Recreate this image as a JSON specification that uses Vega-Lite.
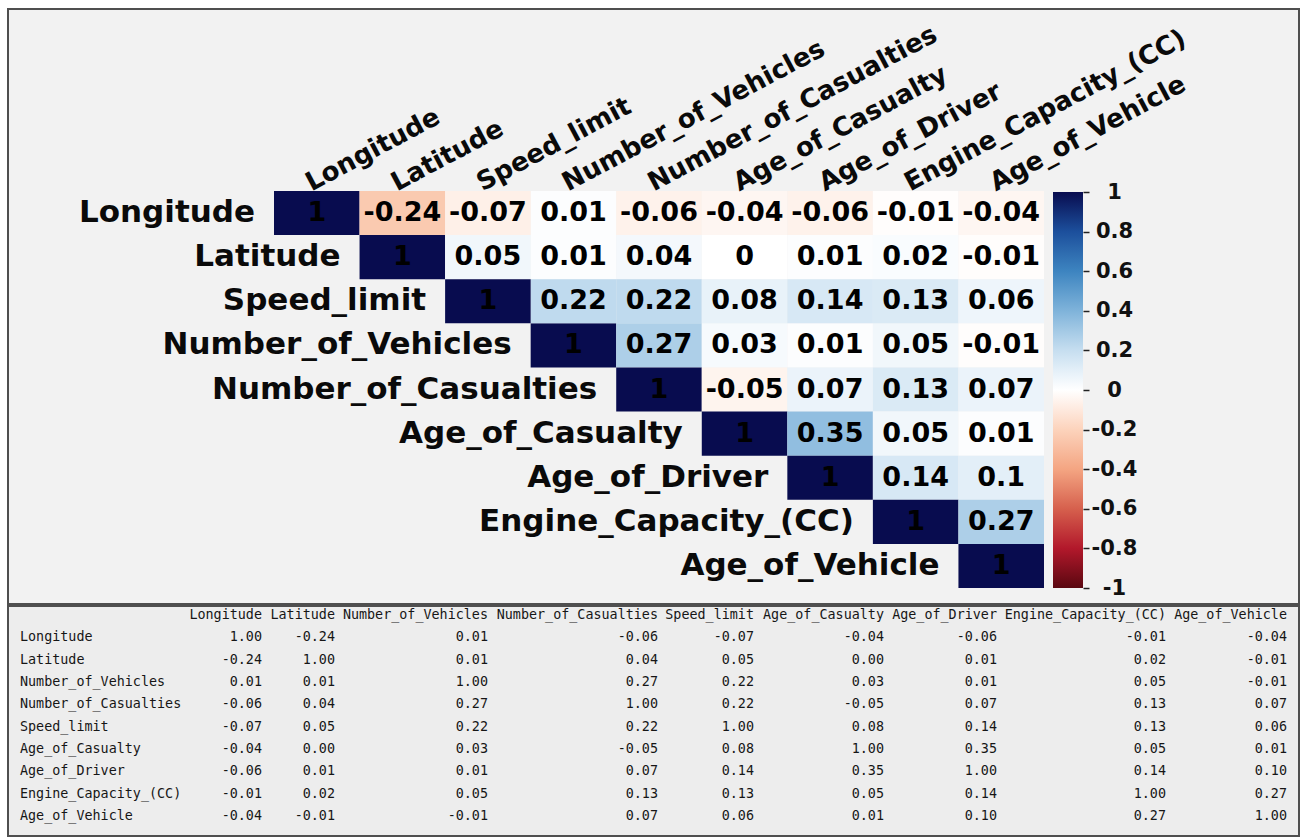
{
  "$schema": "https://vega.github.io/schema/vega-lite/v6.json",
  "background": "white",
  "padding": {"left": 7, "top": 8, "right": 5, "bottom": 4},
  "config": {
    "concat": {"spacing": 0},
    "view": {"stroke": null}
  },
  "datasets": {
    "corr": [
      {"row": "Longitude", "col": "Longitude", "r": 1},
      {"row": "Longitude", "col": "Latitude", "r": -0.24},
      {"row": "Longitude", "col": "Number_of_Vehicles", "r": 0.01},
      {"row": "Longitude", "col": "Number_of_Casualties", "r": -0.06},
      {"row": "Longitude", "col": "Speed_limit", "r": -0.07},
      {"row": "Longitude", "col": "Age_of_Casualty", "r": -0.04},
      {"row": "Longitude", "col": "Age_of_Driver", "r": -0.06},
      {"row": "Longitude", "col": "Engine_Capacity_(CC)", "r": -0.01},
      {"row": "Longitude", "col": "Age_of_Vehicle", "r": -0.04},
      {"row": "Latitude", "col": "Longitude", "r": -0.24},
      {"row": "Latitude", "col": "Latitude", "r": 1},
      {"row": "Latitude", "col": "Number_of_Vehicles", "r": 0.01},
      {"row": "Latitude", "col": "Number_of_Casualties", "r": 0.04},
      {"row": "Latitude", "col": "Speed_limit", "r": 0.05},
      {"row": "Latitude", "col": "Age_of_Casualty", "r": 0},
      {"row": "Latitude", "col": "Age_of_Driver", "r": 0.01},
      {"row": "Latitude", "col": "Engine_Capacity_(CC)", "r": 0.02},
      {"row": "Latitude", "col": "Age_of_Vehicle", "r": -0.01},
      {"row": "Number_of_Vehicles", "col": "Longitude", "r": 0.01},
      {"row": "Number_of_Vehicles", "col": "Latitude", "r": 0.01},
      {"row": "Number_of_Vehicles", "col": "Number_of_Vehicles", "r": 1},
      {"row": "Number_of_Vehicles", "col": "Number_of_Casualties", "r": 0.27},
      {"row": "Number_of_Vehicles", "col": "Speed_limit", "r": 0.22},
      {"row": "Number_of_Vehicles", "col": "Age_of_Casualty", "r": 0.03},
      {"row": "Number_of_Vehicles", "col": "Age_of_Driver", "r": 0.01},
      {"row": "Number_of_Vehicles", "col": "Engine_Capacity_(CC)", "r": 0.05},
      {"row": "Number_of_Vehicles", "col": "Age_of_Vehicle", "r": -0.01},
      {"row": "Number_of_Casualties", "col": "Longitude", "r": -0.06},
      {"row": "Number_of_Casualties", "col": "Latitude", "r": 0.04},
      {"row": "Number_of_Casualties", "col": "Number_of_Vehicles", "r": 0.27},
      {"row": "Number_of_Casualties", "col": "Number_of_Casualties", "r": 1},
      {"row": "Number_of_Casualties", "col": "Speed_limit", "r": 0.22},
      {"row": "Number_of_Casualties", "col": "Age_of_Casualty", "r": -0.05},
      {"row": "Number_of_Casualties", "col": "Age_of_Driver", "r": 0.07},
      {"row": "Number_of_Casualties", "col": "Engine_Capacity_(CC)", "r": 0.13},
      {"row": "Number_of_Casualties", "col": "Age_of_Vehicle", "r": 0.07},
      {"row": "Speed_limit", "col": "Longitude", "r": -0.07},
      {"row": "Speed_limit", "col": "Latitude", "r": 0.05},
      {"row": "Speed_limit", "col": "Number_of_Vehicles", "r": 0.22},
      {"row": "Speed_limit", "col": "Number_of_Casualties", "r": 0.22},
      {"row": "Speed_limit", "col": "Speed_limit", "r": 1},
      {"row": "Speed_limit", "col": "Age_of_Casualty", "r": 0.08},
      {"row": "Speed_limit", "col": "Age_of_Driver", "r": 0.14},
      {"row": "Speed_limit", "col": "Engine_Capacity_(CC)", "r": 0.13},
      {"row": "Speed_limit", "col": "Age_of_Vehicle", "r": 0.06},
      {"row": "Age_of_Casualty", "col": "Longitude", "r": -0.04},
      {"row": "Age_of_Casualty", "col": "Latitude", "r": 0},
      {"row": "Age_of_Casualty", "col": "Number_of_Vehicles", "r": 0.03},
      {"row": "Age_of_Casualty", "col": "Number_of_Casualties", "r": -0.05},
      {"row": "Age_of_Casualty", "col": "Speed_limit", "r": 0.08},
      {"row": "Age_of_Casualty", "col": "Age_of_Casualty", "r": 1},
      {"row": "Age_of_Casualty", "col": "Age_of_Driver", "r": 0.35},
      {"row": "Age_of_Casualty", "col": "Engine_Capacity_(CC)", "r": 0.05},
      {"row": "Age_of_Casualty", "col": "Age_of_Vehicle", "r": 0.01},
      {"row": "Age_of_Driver", "col": "Longitude", "r": -0.06},
      {"row": "Age_of_Driver", "col": "Latitude", "r": 0.01},
      {"row": "Age_of_Driver", "col": "Number_of_Vehicles", "r": 0.01},
      {"row": "Age_of_Driver", "col": "Number_of_Casualties", "r": 0.07},
      {"row": "Age_of_Driver", "col": "Speed_limit", "r": 0.14},
      {"row": "Age_of_Driver", "col": "Age_of_Casualty", "r": 0.35},
      {"row": "Age_of_Driver", "col": "Age_of_Driver", "r": 1},
      {"row": "Age_of_Driver", "col": "Engine_Capacity_(CC)", "r": 0.14},
      {"row": "Age_of_Driver", "col": "Age_of_Vehicle", "r": 0.1},
      {"row": "Engine_Capacity_(CC)", "col": "Longitude", "r": -0.01},
      {"row": "Engine_Capacity_(CC)", "col": "Latitude", "r": 0.02},
      {"row": "Engine_Capacity_(CC)", "col": "Number_of_Vehicles", "r": 0.05},
      {"row": "Engine_Capacity_(CC)", "col": "Number_of_Casualties", "r": 0.13},
      {"row": "Engine_Capacity_(CC)", "col": "Speed_limit", "r": 0.13},
      {"row": "Engine_Capacity_(CC)", "col": "Age_of_Casualty", "r": 0.05},
      {"row": "Engine_Capacity_(CC)", "col": "Age_of_Driver", "r": 0.14},
      {"row": "Engine_Capacity_(CC)", "col": "Engine_Capacity_(CC)", "r": 1},
      {"row": "Engine_Capacity_(CC)", "col": "Age_of_Vehicle", "r": 0.27},
      {"row": "Age_of_Vehicle", "col": "Longitude", "r": -0.04},
      {"row": "Age_of_Vehicle", "col": "Latitude", "r": -0.01},
      {"row": "Age_of_Vehicle", "col": "Number_of_Vehicles", "r": -0.01},
      {"row": "Age_of_Vehicle", "col": "Number_of_Casualties", "r": 0.07},
      {"row": "Age_of_Vehicle", "col": "Speed_limit", "r": 0.06},
      {"row": "Age_of_Vehicle", "col": "Age_of_Casualty", "r": 0.01},
      {"row": "Age_of_Vehicle", "col": "Age_of_Driver", "r": 0.1},
      {"row": "Age_of_Vehicle", "col": "Engine_Capacity_(CC)", "r": 0.27},
      {"row": "Age_of_Vehicle", "col": "Age_of_Vehicle", "r": 1}
    ]
  },
  "vconcat": [
    {
      "width": 1291,
      "height": 595,
      "view": {"fill": "#f2f2f2", "stroke": "#4f4f4f", "strokeWidth": 2},
      "data": {"name": "corr"},
      "transform": [
        {"filter": "indexof(['Longitude','Latitude','Speed_limit','Number_of_Vehicles','Number_of_Casualties','Age_of_Casualty','Age_of_Driver','Engine_Capacity_(CC)','Age_of_Vehicle'], datum.row) <= indexof(['Longitude','Latitude','Speed_limit','Number_of_Vehicles','Number_of_Casualties','Age_of_Casualty','Age_of_Driver','Engine_Capacity_(CC)','Age_of_Vehicle'], datum.col)"}
      ],
      "resolve": {"scale": {"y": "independent"}, "axis": {"y": "independent"}},
      "layer": [
        {
          "layer": [
            {
              "mark": {"type": "rect"},
              "encoding": {
                "x": {"field": "col", "type": "nominal", "axis": null,
                  "scale": {"domain": ["Longitude","Latitude","Speed_limit","Number_of_Vehicles","Number_of_Casualties","Age_of_Casualty","Age_of_Driver","Engine_Capacity_(CC)","Age_of_Vehicle"], "range": [266, 1036], "paddingInner": 0, "paddingOuter": 0}},
                "y": {"field": "row", "type": "nominal", "axis": null,
                  "scale": {"domain": ["Longitude","Latitude","Speed_limit","Number_of_Vehicles","Number_of_Casualties","Age_of_Casualty","Age_of_Driver","Engine_Capacity_(CC)","Age_of_Vehicle"], "range": [182, 579], "paddingInner": 0, "paddingOuter": 0}},
                "color": {
                  "field": "r", "type": "quantitative",
                  "scale": {
                    "domain": [-1, -0.8, -0.6, -0.4, -0.2, 0, 0.2, 0.4, 0.6, 0.8, 1],
                    "range": ["#5a0710", "#B2182B", "#D6604D", "#F4A582", "#FCD3BC", "#FFFFFF", "#c6def0", "#7fb3da", "#3d84c0", "#1c4f9c", "#080c4f"],
                    "interpolate": "rgb"
                  },
                  "legend": {
                    "orient": "none",
                    "legendX": 1045,
                    "legendY": 183,
                    "direction": "vertical",
                    "title": null,
                    "gradientLength": 396,
                    "gradientThickness": 30,
                    "gradientStrokeWidth": 0,
                    "labelExpr": "''",
                    "labelOpacity": 0
                  }
                }
              }
            },
            {
              "mark": {"type": "text", "font": "DejaVu Sans", "fontWeight": "bold", "fontSize": 27, "color": "#000000", "align": "center", "baseline": "middle"},
              "encoding": {
                "x": {"field": "col", "type": "nominal", "axis": null},
                "y": {"field": "row", "type": "nominal", "axis": null},
                "text": {"field": "r", "type": "nominal"}
              }
            },
            {
              "transform": [{"filter": "datum.row === datum.col"}],
              "mark": {"type": "text", "font": "DejaVu Sans", "fontWeight": "bold", "fontSize": 31, "color": "#0a0a0a", "align": "right", "baseline": "middle", "dx": -19},
              "encoding": {
                "x": {"field": "col", "type": "nominal", "axis": null, "bandPosition": 0},
                "y": {"field": "row", "type": "nominal", "axis": null},
                "text": {"field": "row", "type": "nominal"}
              }
            },
            {
              "transform": [{"filter": "datum.row === 'Longitude'"}],
              "mark": {"type": "text", "font": "DejaVu Sans", "fontWeight": "bold", "fontSize": 26, "color": "#0a0a0a", "align": "left", "baseline": "alphabetic", "angle": -28, "dx": -5, "dy": -2},
              "encoding": {
                "x": {"field": "col", "type": "nominal", "axis": null},
                "y": {"field": "row", "type": "nominal", "axis": null, "bandPosition": 0},
                "text": {"field": "col", "type": "nominal"}
              }
            }
          ]
        },
        {
          "transform": [{"filter": "false"}],
          "mark": {"type": "rule"},
          "encoding": {
            "y": {
              "field": "r", "type": "quantitative",
              "scale": {"domain": [-1, 1], "range": [579, 183], "zero": false, "nice": false},
              "axis": {
                "orient": "right",
                "offset": -216,
                "title": null,
                "domain": false,
                "grid": false,
                "ticks": true,
                "tickSize": 6,
                "tickWidth": 1.5,
                "tickColor": "#222222",
                "values": [-1, -0.8, -0.6, -0.4, -0.2, 0, 0.2, 0.4, 0.6, 0.8, 1],
                "labelExpr": "toString(datum.value)",
                "labelAlign": "center",
                "labelBaseline": "middle",
                "labelPadding": 25,
                "labelFlush": false,
                "labelOverlap": false,
                "labelFont": "DejaVu Sans",
                "labelFontWeight": "bold",
                "labelFontSize": 21,
                "labelColor": "#111111"
              }
            }
          }
        }
      ]
    },
    {
      "width": 1291,
      "height": 230,
      "view": {"fill": "#ededed", "stroke": "#4f4f4f", "strokeWidth": 2},
      "data": {"name": "corr"},
      "transform": [
        {"calculate": "indexof(['Longitude','Latitude','Number_of_Vehicles','Number_of_Casualties','Speed_limit','Age_of_Casualty','Age_of_Driver','Engine_Capacity_(CC)','Age_of_Vehicle'], datum.col)", "as": "ci"},
        {"calculate": "(datum.r < 0 ? '-' : '') + format(abs(datum.r), '.2f')", "as": "lbl"}
      ],
      "layer": [
        {
          "transform": [{"filter": "datum.row === 'Longitude'"}],
          "mark": {"type": "text", "font": "DejaVu Sans Mono", "fontSize": 13.4, "color": "#161616", "align": "right", "baseline": "middle"},
          "encoding": {
            "x": {"field": "ci", "type": "quantitative", "axis": null,
              "scale": {"domain": [-1, 0, 1, 2, 3, 4, 5, 6, 7, 8], "range": [12, 254, 327, 480, 650, 746, 876, 989, 1158, 1279], "zero": false, "nice": false}},
            "y": {"datum": "header", "type": "nominal", "axis": null,
              "scale": {"type": "point", "domain": ["header","Longitude","Latitude","Number_of_Vehicles","Number_of_Casualties","Speed_limit","Age_of_Casualty","Age_of_Driver","Engine_Capacity_(CC)","Age_of_Vehicle"], "range": [9, 210], "padding": 0}},
            "text": {"field": "col", "type": "nominal"}
          }
        },
        {
          "transform": [{"filter": "datum.col === 'Longitude'"}],
          "mark": {"type": "text", "font": "DejaVu Sans Mono", "fontSize": 13.4, "color": "#161616", "align": "left", "baseline": "middle"},
          "encoding": {
            "x": {"datum": -1, "type": "quantitative", "axis": null},
            "y": {"field": "row", "type": "nominal", "axis": null},
            "text": {"field": "row", "type": "nominal"}
          }
        },
        {
          "mark": {"type": "text", "font": "DejaVu Sans Mono", "fontSize": 13.4, "color": "#161616", "align": "right", "baseline": "middle"},
          "encoding": {
            "x": {"field": "ci", "type": "quantitative", "axis": null},
            "y": {"field": "row", "type": "nominal", "axis": null},
            "text": {"field": "lbl", "type": "nominal"}
          }
        }
      ]
    }
  ]
}
